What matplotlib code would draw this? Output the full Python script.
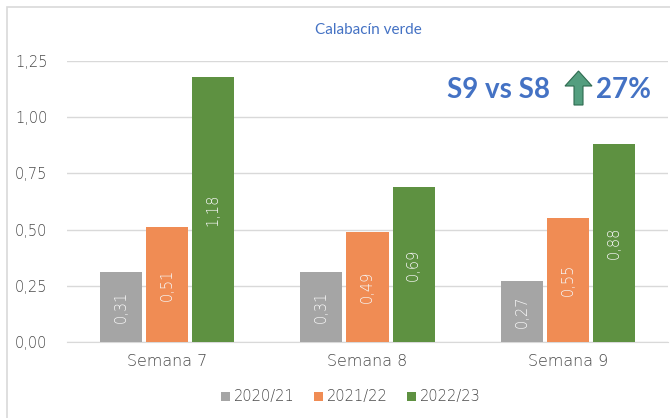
import matplotlib.pyplot as plt
import matplotlib.patches as mpatches
from matplotlib.ticker import FuncFormatter
import numpy as np

categories = ['Semana 7', 'Semana 8', 'Semana 9']
seasons = ['2020/21', '2021/22', '2022/23']
v_2020 = [0.31, 0.31, 0.27]
v_2021 = [0.51, 0.49, 0.55]
v_2022 = [1.18, 0.69, 0.88]
colors = ['#A5A5A5', '#F08C54', '#5E9141']

plt.rcParams['font.family'] = ['DejaVu Sans']
plt.rcParams['font.weight'] = 'light'

fig = plt.figure(figsize=(6.7, 4.18), dpi=100)
ax = fig.add_axes([67/670, 1-342/418, 601/670, 281/418])

x = np.arange(len(categories))
width = 0.21
step = 0.23
for i, vals in enumerate([v_2020, v_2021, v_2022]):
    bars = ax.bar(x + (i-1)*step, vals, width, color=colors[i], label=seasons[i], zorder=3)
    for b, v in zip(bars, vals):
        ax.text(b.get_x()+b.get_width()/2, v/2, f'{v:.2f}'.replace('.', ','),
                rotation=90, ha='center', va='center', color='#f6f6f6', fontsize=10.5, zorder=4)

ax.set_xlim(-0.5, 2.5)
ax.set_ylim(0, 1.25)
ax.set_yticks(np.arange(0, 1.26, 0.25))
ax.yaxis.set_major_formatter(FuncFormatter(lambda v, p: f'{v:.2f}'.replace('.', ',')))
ax.set_xticks(x)
ax.set_xticklabels(categories)
ax.grid(axis='y', color='#d9d9d9', linewidth=1, zorder=0)
for s in ['top', 'right', 'left']:
    ax.spines[s].set_visible(False)
ax.spines['bottom'].set_color('#d9d9d9')
ax.tick_params(axis='y', length=0, pad=14, labelsize=10.5, labelcolor='#4a4a4a')
ax.tick_params(axis='x', length=0, pad=9, labelsize=11.5, labelcolor='#4a4a4a')

fig.text(368/670, 1-30/418, 'Calabacín verde', ha='center', va='center', color='#4472C4',
         fontsize=11, family='Lato', fontweight='normal')

fig.legend(loc='center', bbox_to_anchor=(351/670, 1-397/418), ncol=3, frameon=False,
           fontsize=10.5, labelcolor='#4a4a4a', handlelength=0.6, handleheight=0.6,
           handletextpad=0.3, columnspacing=1.3)

# annotation
fig.text(447/670, 1-98/418, 'S9 vs S8', ha='left', va='baseline', color='#4472C4',
         fontsize=20, fontweight='bold', family='Lato')
fig.text(596/670, 1-98/418, '27%', ha='left', va='baseline', color='#4472C4',
         fontsize=20, fontweight='bold', family='Lato')
arrow_px = [(578.5, 71), (592, 86), (583, 86), (583, 105), (574, 105), (574, 86), (565, 86)]
arrow = mpatches.Polygon([(px/670, 1-py/418) for px, py in arrow_px], closed=True,
                         transform=fig.transFigure, facecolor='#549E7F', edgecolor='#2E6B50', lw=0.8)
fig.patches.append(arrow)

# outer border
fig.patches.append(mpatches.Rectangle((7/670, -0.1), 1.1, 1-7/418+0.1, transform=fig.transFigure,
                                      fill=False, edgecolor='#d9d9d9', lw=1.2))

fig.savefig('out.png', dpi=100)
